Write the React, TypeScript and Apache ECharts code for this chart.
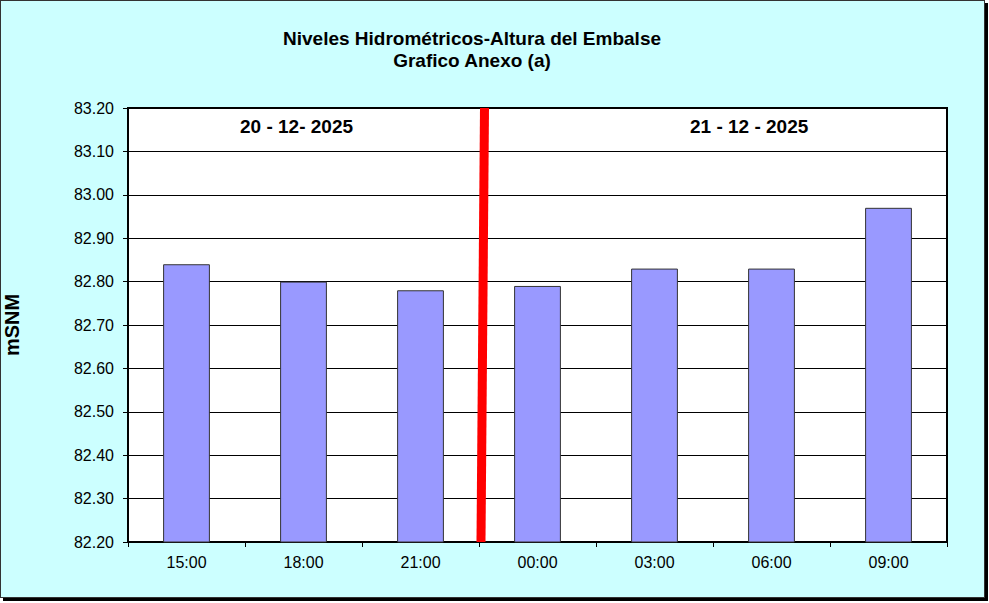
import React, { useEffect, useRef } from "react";
import * as echarts from "echarts";

const categories = ["15:00", "18:00", "21:00", "00:00", "03:00", "06:00", "09:00"];
const levels = [82.84, 82.8, 82.78, 82.79, 82.83, 82.83, 82.97];
const dayLabels = ["20 - 12- 2025", "21 - 12 - 2025"];
const dividerLine = [
  [2.517, 82.2],
  [2.547, 83.2],
];
const yMin = 82.2;
const yMax = 83.2;
const yStep = 0.1;

export default function App() {
  const ref = useRef<HTMLDivElement>(null);
  useEffect(() => {
    document.body.style.margin = "0";
    if (!ref.current) return;
    const chart = echarts.init(ref.current, undefined, { renderer: "svg" });
    const font = "'Liberation Sans', Arial, sans-serif";
    chart.setOption({
      animation: false,
      backgroundColor: "transparent",
      textStyle: { fontFamily: font },
      title: {
        text: "Niveles Hidrométricos-Altura del Embalse\nGrafico Anexo (a)",
        left: 467,
        top: 22,
        textAlign: "center",
        textStyle: { fontFamily: font, fontSize: 19, fontWeight: "bold", color: "#000", lineHeight: 22 },
      },
      grid: {
        left: 128,
        top: 108,
        width: 819,
        height: 434,
        outerBoundsMode: "none",
        containLabel: false,
        show: true,
        backgroundColor: "#fff",
        borderColor: "#000",
        borderWidth: 2,
      },
      xAxis: [
        {
          type: "category",
          data: categories,
          axisLine: { lineStyle: { color: "#000", width: 2 } },
          axisTick: { show: true, length: 5, alignWithLabel: false, lineStyle: { color: "#000" } },
          axisLabel: { color: "#000", fontSize: 16, fontFamily: font, margin: 12 },
        },
        { type: "value", min: -0.5, max: 6.5, show: false },
      ],
      yAxis: {
        type: "value",
        min: yMin,
        max: yMax,
        interval: yStep,
        name: "mSNM",
        nameLocation: "middle",
        nameRotate: 90,
        nameGap: 106,
        nameTextStyle: { fontFamily: font, fontSize: 20, fontWeight: "bold", color: "#000" },
        axisLine: { show: true, onZero: false, lineStyle: { color: "#000", width: 2 } },
        axisTick: { show: true, length: 5, lineStyle: { color: "#000" } },
        axisLabel: {
          color: "#000",
          fontSize: 16,
          fontFamily: font,
          margin: 14,
          formatter: (v: number) => v.toFixed(2),
        },
        splitLine: { lineStyle: { color: "#000", width: 1 } },
      },
      series: [
        {
          type: "bar",
          data: levels,
          barWidth: "40%",
          itemStyle: { color: "#9999FF", borderColor: "#333", borderWidth: 1 },
        },
        {
          type: "line",
          xAxisIndex: 1,
          data: dividerLine,
          symbol: "none",
          lineStyle: { color: "#FF0000", width: 9 },
          silent: true,
        },
      ],
      graphic: [
        {
          type: "text",
          left: 240,
          top: 117,
          style: { text: dayLabels[0], font: `bold 19px ${font}`, fill: "#000" },
        },
        {
          type: "text",
          left: 690,
          top: 117,
          style: { text: dayLabels[1], font: `bold 19px ${font}`, fill: "#000" },
        },
      ],
    });
    return () => chart.dispose();
  }, []);
  return (
    <div style={{ position: "relative", width: 989, height: 603, background: "#fff" }}>
      <div
        style={{
          position: "absolute",
          left: 0,
          top: 0,
          width: 983,
          height: 596,
          background: "#CCFFFF",
          border: "1px solid #333",
          boxShadow: "3px 3px 0 #000",
        }}
      />
      <div ref={ref} style={{ position: "absolute", left: 0, top: 0, width: 989, height: 603 }} />
    </div>
  );
}
